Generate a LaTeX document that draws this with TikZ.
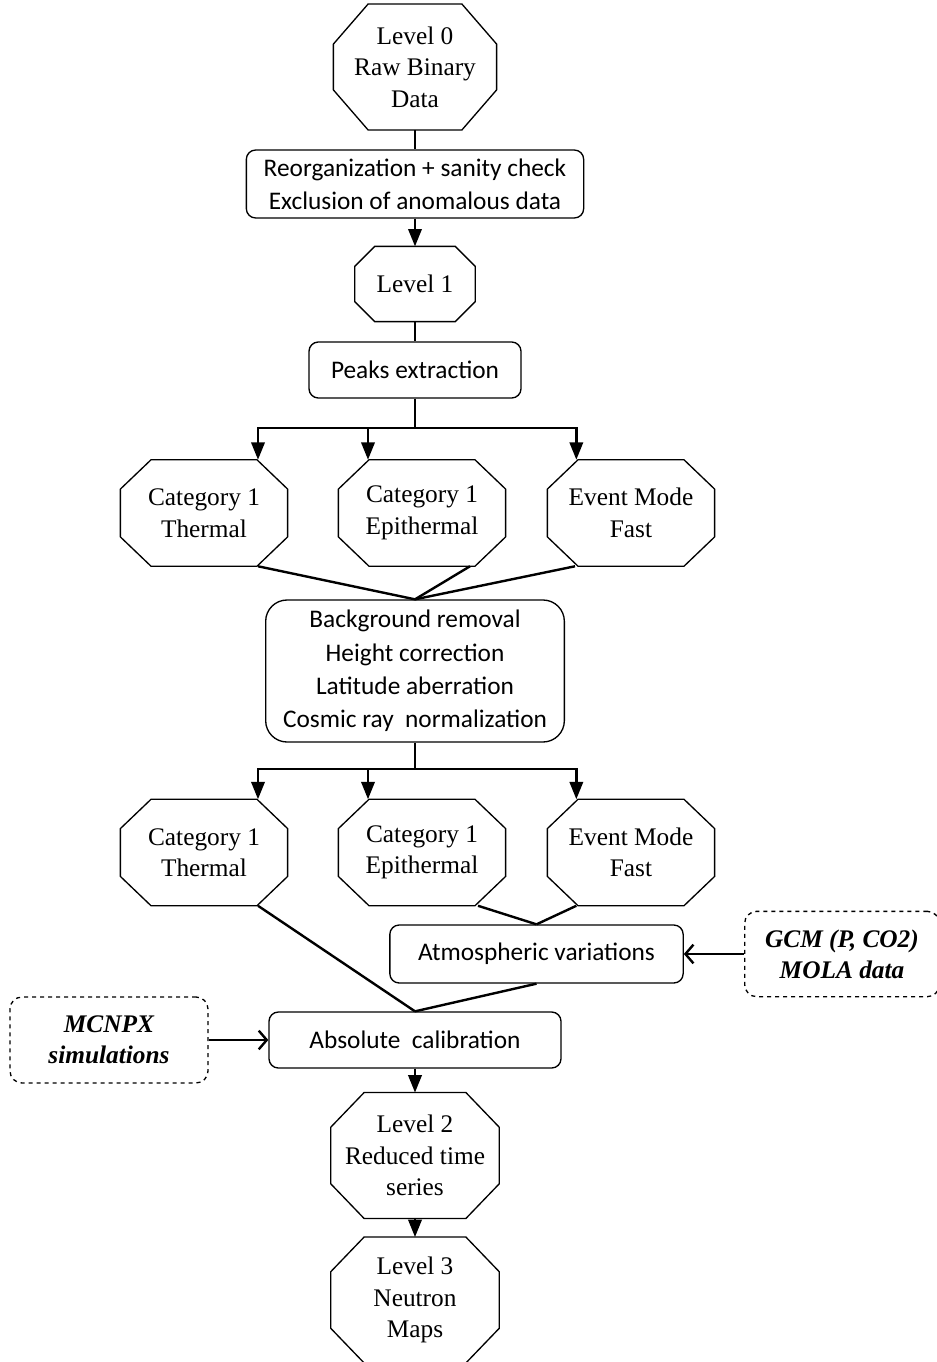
\documentclass[tikz,border=0pt]{standalone}
\usepackage{fontspec}
\setmainfont{Liberation Serif}
\newfontfamily\calibri{Carlito}
\usetikzlibrary{arrows.meta}
% octagon round a node: name, horizontal cut, vertical cut
\newcommand{\drawocta}[3]{%
  \draw[line width=1pt] ([xshift=#2]#1.north west) -- ([xshift=-#2]#1.north east)
    -- ([yshift=-#3]#1.north east) -- ([yshift=#3]#1.south east)
    -- ([xshift=-#2]#1.south east) -- ([xshift=#2]#1.south west)
    -- ([yshift=#3]#1.south west) -- ([yshift=-#3]#1.north west) -- cycle;}
\begin{document}
\begin{tikzpicture}[x=0.75pt,y=-0.75pt]
\tikzstyle{every node}=[font=\fontsize{19}{23.6}\selectfont, align=center]
\tikzstyle{octa}=[rectangle, inner sep=0pt]
\tikzstyle{cat}=[octa, minimum width=125pt, minimum height=79.5pt]
\tikzstyle{proc}=[draw, line width=1pt, rounded corners=7pt, inner sep=0pt,
  font=\calibri\fontsize{19}{25}\selectfont]
\tikzstyle{ext}=[draw, dashed, line width=1pt, rounded corners=9pt, inner sep=0pt,
  font=\bfseries\itshape\fontsize{19}{23}\selectfont]
\tikzstyle{link}=[line width=1.8pt]
\tikzstyle{flow}=[line width=1.8pt, -{Triangle[length=13pt,width=10pt]}]
\tikzstyle{feed}=[line width=1.8pt, -{Straight Barb[length=6pt,width=14pt]}]

\useasboundingbox (0,0) rectangle (936,1362);

% main column
\node[octa, minimum width=122pt, minimum height=94pt] (lev0) at (415,67) {Level 0\\Raw Binary\\Data};
\drawocta{lev0}{26pt}{30pt}
\node[proc, minimum width=253pt, minimum height=51pt] (reorg) at (415,184)
  {Reorganization + sanity check\\Exclusion of anomalous data};
\node[octa, minimum width=90pt, minimum height=56pt] (lev1) at (415,284) {Level 1};
\drawocta{lev1}{15pt}{15pt}
\node[proc, minimum width=159pt, minimum height=42pt] (peaks) at (415,370) {Peaks extraction};
\coordinate (split1) at (415,428);
\node[proc, rounded corners=16pt, minimum width=224pt, minimum height=106.5pt] (bg) at (415,671)
  {Background removal\\Height correction\\Latitude aberration\\Cosmic ray~ normalization};
\coordinate (split2) at (415,769);

% the two rows of channels
\foreach \y/\r in {513/a,852.5/b} {
  \node[cat] (th\r) at (204,\y) {Category 1\\Thermal};
  \node[cat] (ep\r) at (422,\y) {Category 1\\Epithermal};
  \node[cat] (ev\r) at (631,\y) {Event Mode\\Fast};
  \drawocta{th\r}{23pt}{22pt}
  \drawocta{ep\r}{23pt}{22pt}
  \drawocta{ev\r}{23pt}{22pt}
}

\node[proc, minimum width=220pt, minimum height=43.5pt] (atm) at (536.5,954) {Atmospheric variations};
\node[ext, minimum width=146pt, minimum height=64pt] (gcm) at (842,954) {GCM (P, CO2)\\MOLA data};
\node[proc, minimum width=219pt, minimum height=42pt] (abs) at (415,1040) {Absolute~ calibration};
\node[ext, minimum width=148.5pt, minimum height=64.5pt] (mcnpx) at (109,1040) {MCNPX\\simulations};
\node[octa, minimum width=126pt, minimum height=94pt] (lev2) at (415,1155.5) {Level 2\\Reduced time\\series};
\node[octa, minimum width=126pt, minimum height=94pt] (lev3) at (415,1300) {Level 3\\Neutron\\Maps};
\drawocta{lev2}{25pt}{26pt}
\drawocta{lev3}{25pt}{26pt}

% connectors
\draw[link] (lev0) -- (reorg);
\draw[flow] (reorg) -- (lev1);
\draw[link] (lev1) -- (peaks);
\draw[link] (peaks) -- (split1);
\draw[flow] (split1) -| ([xshift=40.5pt]tha.north);
\draw[flow] (split1) -| ([xshift=-40.5pt]epa.north);
\draw[flow] (split1) -| ([xshift=-41pt]eva.north);
\draw[link] ([xshift=40.5pt]tha.south) -- (bg.north);
\draw[link] ([xshift=36pt]epa.south) -- (bg.north);
\draw[link] ([xshift=-42pt]eva.south) -- (bg.north);

\draw[link] (bg) -- (split2);
\draw[flow] (split2) -| ([xshift=40.5pt]thb.north);
\draw[flow] (split2) -| ([xshift=-40.5pt]epb.north);
\draw[flow] (split2) -| ([xshift=-41pt]evb.north);
\draw[link] ([xshift=42pt]epb.south) -- (atm.north);
\draw[link] ([xshift=-41pt]evb.south) -- (atm.north);
\draw[link] ([xshift=40.5pt]thb.south) -- (abs.north);
\draw[link] (atm.south) -- (abs.north);
\draw[feed] (gcm) -- (atm);
\draw[feed] (mcnpx) -- (abs);
\draw[flow] (abs) -- (lev2);
\draw[flow] (lev2) -- (lev3);
\end{tikzpicture}
\end{document}
